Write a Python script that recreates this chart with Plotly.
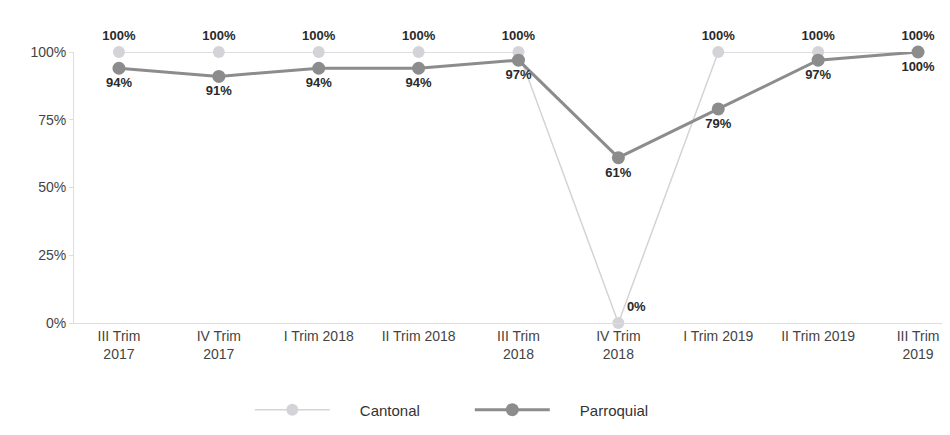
import plotly.graph_objects as go

categories = ["III Trim<br>2017", "IV Trim<br>2017", "I Trim 2018", "II Trim 2018",
              "III Trim<br>2018", "IV Trim<br>2018", "I Trim 2019", "II Trim 2019",
              "III Trim<br>2019"]
cantonal = [1.00, 1.00, 1.00, 1.00, 1.00, 0.00, 1.00, 1.00, 1.00]
parroquial = [0.94, 0.91, 0.94, 0.94, 0.97, 0.61, 0.79, 0.97, 1.00]
y_ticks = [0, 0.25, 0.5, 0.75, 1.0]
y_tick_labels = ["0%", "25%", "50%", "75%", "100%"]

x = list(range(len(categories)))

cant_pos = ["top center"] * len(cantonal)
cant_pos[5] = "top right"

pad = "\u00a0" * 6

fig = go.Figure()
fig.add_trace(go.Scatter(
    x=x, y=cantonal, name=pad + "Cantonal", mode="lines+markers+text",
    line=dict(color="#d4d4d8", width=1.5),
    marker=dict(color="#d4d4d8", size=12),
    text=[f"{v:.0%}" for v in cantonal], textposition=cant_pos,
    textfont=dict(family="Liberation Sans, Arial", size=13, color="#2a2a2a"),
    cliponaxis=False,
))
fig.add_trace(go.Scatter(
    x=x, y=parroquial, name=pad + "Parroquial", mode="lines+markers+text",
    line=dict(color="#8c8c8c", width=3),
    marker=dict(color="#8c8c8c", size=13),
    text=[f"{v:.0%}" for v in parroquial], textposition="bottom center",
    textfont=dict(family="Liberation Sans, Arial", size=13, color="#2a2a2a"),
    cliponaxis=False,
))

fig.update_traces(texttemplate="<b>%{text}</b>")

fig.update_layout(
    width=950, height=435,
    margin=dict(l=66, r=5, t=44, b=120),
    paper_bgcolor="white", plot_bgcolor="white",
    font=dict(family="Liberation Sans, Arial", size=14, color="#444444"),
    showlegend=True,
    legend=dict(orientation="h", x=0.2, xanchor="left", y=-0.26, yanchor="top",
                font=dict(size=15, color="#333333"), itemwidth=75,
                entrywidth=130, entrywidthmode="pixels",
                traceorder="normal"),
    xaxis=dict(
        tickmode="array", tickvals=x, ticktext=categories,
        range=[-0.45, 8.35], showgrid=False, zeroline=False,
        showline=True, linecolor="#dddddd", linewidth=1,
        ticks="", tickfont=dict(size=14, color="#444444"),
    ),
    yaxis=dict(
        tickmode="array", tickvals=y_ticks, ticktext=y_tick_labels,
        range=[0, 1.0], showgrid=False, zeroline=False,
        showline=True, linecolor="#dddddd", linewidth=1,
        ticks="outside", ticklen=4, tickcolor="#dddddd",
        tickfont=dict(size=14, color="#444444"),
    ),
)

fig.write_html("out.html")
